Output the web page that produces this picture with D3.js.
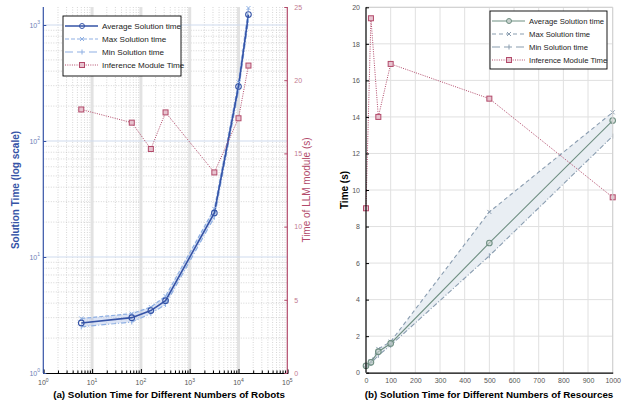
<!DOCTYPE html>
<meta charset="utf-8">
<script src="https://d3js.org/d3.v7.min.js"></script>
<style>
    body { margin: 0; background: #fff; }
    svg text { font-family: "Liberation Sans", Arial, Helvetica, sans-serif; }
</style>
<svg id="vis" font-family="Liberation Sans, Arial, sans-serif"></svg>
<script>
    // ---- data: (a) robots, log scale ----
    let robots = [6, 65, 160, 320, 3200, 10000, 16000]
    let avgA = [2.7, 3.0, 3.45, 4.2, 24, 295, 1230]
    let maxA = [2.95, 3.25, 3.7, 4.6, 26, 320, 1400]
    let minA = [2.5, 2.75, 3.25, 3.9, 22, 270, 1100]
    let llmA = [18.0, 17.1, 15.3, 17.8, 13.7, 17.4, 21.0]
    let llmTicksA = [0, 5, 10, 15, 20, 25]

    // ---- data: (b) resources ----
    let resources = [0, 20, 50, 100, 500, 1000]
    let avgB = [0.38, 0.57, 1.15, 1.6, 7.1, 13.8]
    let maxB = [0.42, 0.62, 1.3, 1.7, 8.8, 14.25]
    let minB = [0.33, 0.5, 0.95, 1.5, 6.4, 12.95]
    let llmB = [9.0, 19.4, 14.0, 16.9, 15.0, 9.6]

    let legendNames = ['Average Solution time', 'Max Solution time', 'Min Solution time', 'Inference Module Time']

    var W = 628, H = 405;
    let svg = d3.select('#vis').attr('width', W).attr('height', H);
    let FONT = '"Liberation Sans", Arial, sans-serif';

    let blue = '#3553a6', lightBlue = '#8fb0e3', pink = '#b24a6a';
    let green = '#6f8f82', grayBlue = '#8a9db0';

    function pts(xs, ys) { return xs.map((x, i) => [x, ys[i]]) }

    // =========== chart (a) ===========
    var xA = d3.scaleLog().domain([1, 1e5]).range([43.3, 287.3]);
    var yA = d3.scaleLog().domain([1, Math.pow(10, 366 / 116)]).range([373, 7]);
    var yA2 = d3.scaleLinear().domain([0, 25]).range([373, 7]);

    let gA = svg.append('g');

    // minor grid (dotted)
    let minorX = [], minorY = [];
    for (let e = 0; e < 5; e++) for (let m = 2; m < 10; m++) minorX.push(m * Math.pow(10, e));
    for (let e = 0; e < 4; e++) for (let m = 2; m < 10; m++) if (m * Math.pow(10, e) < yA.domain()[1]) minorY.push(m * Math.pow(10, e));
    gA.selectAll('.mx').data(minorX).enter().append('line')
        .attr('x1', d => xA(d)).attr('x2', d => xA(d)).attr('y1', 7).attr('y2', 373)
        .style('stroke', '#c4c4c4').style('stroke-width', 0.7).style('stroke-dasharray', '1,1.5');
    gA.selectAll('.my').data(minorY).enter().append('line')
        .attr('x1', 43.3).attr('x2', 287.3).attr('y1', d => yA(d)).attr('y2', d => yA(d))
        .style('stroke', '#c4c4c4').style('stroke-width', 0.7).style('stroke-dasharray', '1,1.5');
    // major grid
    gA.selectAll('.MX').data([10, 100, 1000, 10000]).enter().append('line')
        .attr('x1', d => xA(d)).attr('x2', d => xA(d)).attr('y1', 7).attr('y2', 373)
        .style('stroke', '#e2e2e2').style('stroke-width', 3);
    gA.selectAll('.MY').data([10, 100, 1000]).enter().append('line')
        .attr('x1', 43.3).attr('x2', 287.3).attr('y1', d => yA(d)).attr('y2', d => yA(d))
        .style('stroke', '#cfdbee').style('stroke-width', 1);

    // band between max and min
    gA.append('path')
        .datum(robots.map((r, i) => ({x: r, hi: maxA[i], lo: minA[i]})))
        .attr('d', d3.area().x(d => xA(d.x)).y0(d => yA(d.lo)).y1(d => yA(d.hi)))
        .style('fill', '#9fb5e6').style('opacity', 0.35);

    let lineA = d3.line().x(d => xA(d[0])).y(d => yA(d[1]));
    gA.append('path').datum(pts(robots, maxA)).attr('d', lineA)
        .style('fill', 'none').style('stroke', lightBlue).style('stroke-width', 1.2).style('stroke-dasharray', '4,2');
    gA.append('path').datum(pts(robots, minA)).attr('d', lineA)
        .style('fill', 'none').style('stroke', lightBlue).style('stroke-width', 1.2).style('stroke-dasharray', '5,2,1,2');
    gA.append('path').datum(pts(robots, avgA)).attr('d', lineA)
        .style('fill', 'none').style('stroke', blue).style('stroke-width', 1.6);

    // max markers (x)
    gA.selectAll('.mxk').data(pts(robots, maxA)).enter().append('path')
        .attr('d', d => { let x = xA(d[0]), y = yA(d[1]); return `M${x-2},${y-2}L${x+2},${y+2}M${x-2},${y+2}L${x+2},${y-2}` })
        .style('stroke', lightBlue).style('stroke-width', 1);
    // min markers (|)
    gA.selectAll('.mnk').data(pts(robots, minA)).enter().append('path')
        .attr('d', d => { let x = xA(d[0]), y = yA(d[1]); return `M${x},${y-2.5}L${x},${y+2.5}` })
        .style('stroke', lightBlue).style('stroke-width', 1);
    gA.selectAll('.avk').data(pts(robots, avgA)).enter().append('circle')
        .attr('cx', d => xA(d[0])).attr('cy', d => yA(d[1])).attr('r', 2.8)
        .style('fill', 'none').style('stroke', blue).style('stroke-width', 1.1);

    // llm line on right axis
    gA.append('path').datum(pts(robots, llmA))
        .attr('d', d3.line().x(d => xA(d[0])).y(d => yA2(d[1])))
        .style('fill', 'none').style('stroke', pink).style('stroke-width', 1).style('stroke-dasharray', '1,1.3');
    gA.selectAll('.lk').data(pts(robots, llmA)).enter().append('rect')
        .attr('x', d => xA(d[0]) - 2.5).attr('y', d => yA2(d[1]) - 2.5).attr('width', 5).attr('height', 5)
        .style('fill', '#e7c3cf').style('stroke', pink).style('stroke-width', 1);

    // axes
    let majorX = [1, 10, 100, 1000, 10000, 100000];
    let xAxisA = gA.append('g').attr('transform', 'translate(0,373)')
        .call(d3.axisBottom(xA).tickValues(majorX.concat(minorX)).tickSize(-3).tickFormat(''));
    xAxisA.selectAll('.tick line').style('stroke', '#000').attr('y2', d => majorX.includes(d) ? -4 : -2.5);
    xAxisA.select('.domain').style('stroke', '#000').style('stroke-width', 1.2);
    [0, 1, 2, 3, 4, 5].forEach(e => {
        let t = gA.append('text').attr('x', xA(Math.pow(10, e))).attr('y', 385)
            .attr('text-anchor', 'middle').style('font-size', '7px').style('fill', '#555');
        t.append('tspan').text('10');
        t.append('tspan').attr('dy', -3.5).style('font-size', '5px').text(e);
    });

    let yAxisA = gA.append('g').attr('transform', 'translate(43.3,0)')
        .call(d3.axisLeft(yA).tickValues([1, 10, 100, 1000]).tickSize(-3).tickFormat(''));
    yAxisA.selectAll('line').style('stroke', blue);
    yAxisA.select('.domain').style('stroke', blue).style('stroke-width', 1.2).attr('d', 'M0,7V373');
    [0, 1, 2, 3].forEach(e => {
        let t = gA.append('text').attr('x', 40).attr('y', yA(Math.pow(10, e)) + 2.5)
            .attr('text-anchor', 'end').style('font-size', '7px').style('fill', '#6b7fb8');
        t.append('tspan').text('10');
        t.append('tspan').attr('dy', -3.5).style('font-size', '5px').text(e);
    });

    let yAxisA2 = gA.append('g').attr('transform', 'translate(287.3,0)')
        .call(d3.axisRight(yA2).tickValues(llmTicksA).tickSize(3).tickPadding(4));
    yAxisA2.selectAll('line').style('stroke', pink);
    yAxisA2.select('.domain').style('stroke', pink).style('stroke-width', 1.2).attr('d', 'M0,7V373');
    yAxisA2.selectAll('text').style('font-size', '7px').style('fill', '#c27a90');
    yAxisA2.selectAll('.tick line').attr('x2', -3);

    gA.append('text').attr('transform', 'translate(19,190) rotate(-90)').attr('text-anchor', 'middle')
        .style('font-family', FONT).style('font-size', '10px').style('font-weight', 'bold').style('fill', blue)
        .text('Solution Time (log scale)');
    gA.append('text').attr('transform', 'translate(310,190) rotate(-90)').attr('text-anchor', 'middle')
        .style('font-family', FONT).style('font-size', '10px').style('fill', pink)
        .text('Time of LLM module (s)');
    gA.append('text').attr('x', 169).attr('y', 398).attr('text-anchor', 'middle')
        .style('font-size', '9.8px').style('font-weight', 'bold').text('(a) Solution Time for Different Numbers of Robots');

    // =========== chart (b) ===========
    var xB = d3.scaleLinear().domain([0, 1000]).range([366, 612.7]);
    var yB = d3.scaleLinear().domain([0, 20]).range([372.7, 7.3]);
    let gB = svg.append('g');

    gB.selectAll('.gx').data(d3.range(100, 1001, 100)).enter().append('line')
        .attr('x1', d => xB(d)).attr('x2', d => xB(d)).attr('y1', 7.3).attr('y2', 372.7)
        .style('stroke', '#e0e0e0').style('stroke-width', 1);
    gB.selectAll('.gy').data(d3.range(2, 21, 2)).enter().append('line')
        .attr('x1', 366).attr('x2', 612.7).attr('y1', d => yB(d)).attr('y2', d => yB(d))
        .style('stroke', '#e0e0e0').style('stroke-width', 1);

    gB.append('path')
        .datum(resources.map((r, i) => ({x: r, hi: maxB[i], lo: minB[i]})))
        .attr('d', d3.area().x(d => xB(d.x)).y0(d => yB(d.lo)).y1(d => yB(d.hi)))
        .style('fill', '#e9eef3');

    let lineB = d3.line().x(d => xB(d[0])).y(d => yB(d[1]));
    gB.append('path').datum(pts(resources, maxB)).attr('d', lineB)
        .style('fill', 'none').style('stroke', grayBlue).style('stroke-width', 1.1).style('stroke-dasharray', '4,3');
    gB.append('path').datum(pts(resources, minB)).attr('d', lineB)
        .style('fill', 'none').style('stroke', grayBlue).style('stroke-width', 1.1).style('stroke-dasharray', '5,2,1,2');
    gB.append('path').datum(pts(resources, avgB)).attr('d', lineB)
        .style('fill', 'none').style('stroke', green).style('stroke-width', 1.1);

    gB.selectAll('.mxk').data(pts(resources, maxB)).enter().append('path')
        .attr('d', d => { let x = xB(d[0]), y = yB(d[1]); return `M${x-2},${y-2}L${x+2},${y+2}M${x-2},${y+2}L${x+2},${y-2}` })
        .style('stroke', grayBlue).style('stroke-width', 1);
    gB.selectAll('.mnk').data(pts(resources, minB)).enter().append('path')
        .attr('d', d => { let x = xB(d[0]), y = yB(d[1]); return `M${x},${y-2.5}L${x},${y+2.5}` })
        .style('stroke', grayBlue).style('stroke-width', 1);
    gB.selectAll('.avk').data(pts(resources, avgB)).enter().append('circle')
        .attr('cx', d => xB(d[0])).attr('cy', d => yB(d[1])).attr('r', 2.8)
        .style('fill', '#c9d3cf').style('fill-opacity', 0.6).style('stroke', green).style('stroke-width', 1.1);

    gB.append('path').datum(pts(resources, llmB))
        .attr('d', d3.line().x(d => xB(d[0])).y(d => yB(d[1])))
        .style('fill', 'none').style('stroke', pink).style('stroke-width', 1).style('stroke-dasharray', '1,1.3');
    gB.selectAll('.lk').data(pts(resources, llmB)).enter().append('rect')
        .attr('x', d => xB(d[0]) - 2.5).attr('y', d => yB(d[1]) - 2.5).attr('width', 5).attr('height', 5)
        .style('fill', '#e7c3cf').style('stroke', pink).style('stroke-width', 1);

    // box
    gB.append('path').attr('d', 'M366,7.3H612.7V372.7').style('fill', 'none').style('stroke', '#cfcfcf');
    let xAxisB = gB.append('g').attr('transform', 'translate(0,372.7)')
        .call(d3.axisBottom(xB).ticks(10).tickSize(0).tickPadding(5).tickFormat(d3.format('d')));
    xAxisB.select('.domain').style('stroke', '#000').style('stroke-width', 1.2);
    xAxisB.selectAll('text').style('font-size', '7px').style('fill', '#555');
    let yAxisB = gB.append('g').attr('transform', 'translate(366,0)')
        .call(d3.axisLeft(yB).ticks(10).tickSize(3).tickPadding(3));
    yAxisB.select('.domain').style('stroke', '#000').style('stroke-width', 1.2).attr('d', 'M0,7.3V372.7');
    yAxisB.selectAll('.tick line').attr('x2', 3).style('stroke', '#000');
    yAxisB.selectAll('text').style('font-size', '7px').style('fill', '#555');

    gB.append('text').attr('transform', 'translate(348,190) rotate(-90)').attr('text-anchor', 'middle')
        .style('font-size', '10px').style('font-weight', 'bold').text('Time (s)');
    gB.append('text').attr('x', 489).attr('y', 398).attr('text-anchor', 'middle')
        .style('font-size', '9.8px').style('font-weight', 'bold').text('(b) Solution Time for Different Numbers of Resources');

    // =========== legends ===========
    function legend(g, x, y, w, h, fs, styles) {
        let lg = g.append('g').attr('transform', `translate(${x},${y})`);
        lg.append('rect').attr('width', w).attr('height', h).style('fill', '#fff').style('stroke', '#000').style('stroke-width', 0.9);
        legendNames.forEach((name, i) => {
            let s = styles[i], yy = 10 + i * 13, cx = 19;
            lg.append('line').attr('x1', 2).attr('x2', 35).attr('y1', yy).attr('y2', yy)
                .style('stroke', s.c).style('stroke-width', s.w).style('stroke-dasharray', s.dash);
            if (s.m === 'o') lg.append('circle').attr('cx', cx).attr('cy', yy).attr('r', 2.5).style('fill', s.fill || 'none').style('stroke', s.c);
            if (s.m === 'x') lg.append('path').attr('d', `M${cx-2},${yy-2}L${cx+2},${yy+2}M${cx-2},${yy+2}L${cx+2},${yy-2}`).style('stroke', s.c);
            if (s.m === '|') lg.append('path').attr('d', `M${cx},${yy-2.5}L${cx},${yy+2.5}`).style('stroke', s.c);
            if (s.m === 's') lg.append('rect').attr('x', cx - 2.5).attr('y', yy - 2.5).attr('width', 5).attr('height', 5).style('fill', '#e7c3cf').style('stroke', s.c);
            lg.append('text').attr('x', 39).attr('y', yy + 2.8).style('font-size', fs + 'px').style('fill', '#222').text(name);
        });
    }
    legend(gA, 63, 16, 118, 60, 8.1, [
        {c: blue, w: 1.4, m: 'o'}, {c: lightBlue, w: 1.2, dash: '4,2', m: 'x'},
        {c: lightBlue, w: 1.2, dash: '8,4', m: '|'}, {c: pink, w: 1, dash: '1,1.3', m: 's'}]);
    legend(gB, 490, 11, 117, 58, 7.7, [
        {c: green, w: 1.1, m: 'o', fill: '#c9d3cf'}, {c: grayBlue, w: 1.1, dash: '4,3', m: 'x'},
        {c: grayBlue, w: 1.1, dash: '8,4', m: '|'}, {c: pink, w: 1, dash: '1,1.3', m: 's'}]);
</script>
